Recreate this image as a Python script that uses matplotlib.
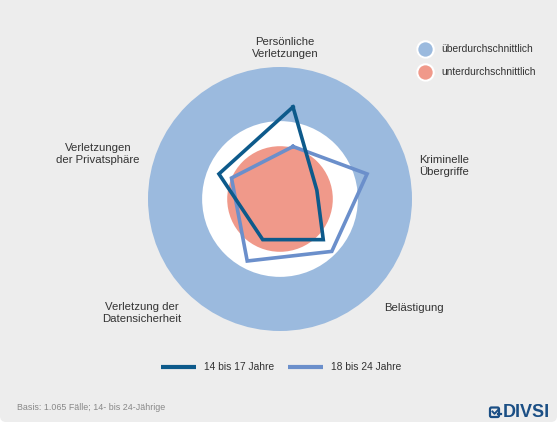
import numpy as np
import matplotlib.pyplot as plt
from matplotlib.patches import Circle, FancyBboxPatch

plt.rcParams['font.family'] = ['Liberation Sans', 'DejaVu Sans']

# categories, clockwise from the top
categories = ["Persönliche\nVerletzungen", "Kriminelle\nÜbergriffe", "Belästigung",
              "Verletzung der\nDatensicherheit", "Verletzungen\nder Privatsphäre"]
series_names = ["14 bis 17 Jahre", "18 bis 24 Jahre"]
values_14_17 = [69, 19, 39, 39, 59]
values_18_24 = [39, 59, 50, 59, 49]

# background rings (radius in the same units as the values)
ring_names = ["überdurchschnittlich", "unterdurchschnittlich"]
ring_outer = 100
ring_white = 59
ring_red = 40

footnote = "Basis: 1.065 Fälle; 14- bis 24-Jährige"

col_blue = "#9bbade"
col_red = "#f0998a"
col_dark = "#0d5a8b"
col_light = "#6b8fcb"
col_bg = "#ededed"
col_text = "#333333"
col_logo = "#1b4f85"

W, H = 560, 426
fig = plt.figure(figsize=(W / 100, H / 100), dpi=100)
fig.patch.set_facecolor("white")

# background axes in pixel coordinates
bg = fig.add_axes([0, 0, 1, 1])
bg.set_xlim(0, W)
bg.set_ylim(H, 0)
bg.axis("off")
bg.add_patch(FancyBboxPatch((0, -10), W - 3, H - 4 + 10, boxstyle="round,pad=0,rounding_size=6",
                            fc=col_bg, ec="none"))

# rings (drawn around their own centre, slightly left of the polygons)
R_px = 132
ring_cx, ring_cy = 280, 199
scale = R_px / ring_outer
bg.add_patch(Circle((ring_cx, ring_cy), ring_outer * scale, fc=col_blue, ec="none"))
bg.add_patch(Circle((ring_cx, ring_cy), ring_white * scale, fc="white", ec="none"))
bg.add_patch(Circle((ring_cx, ring_cy), ring_red * scale, fc=col_red, ec="none"))

# polar axes for the two series
cx, cy = 293, 198
ax = fig.add_axes([(cx - R_px) / W, (H - cy - R_px) / H, 2 * R_px / W, 2 * R_px / H],
                  projection="polar")
ax.set_theta_zero_location("N")
ax.set_theta_direction(-1)
ax.set_ylim(0, 100)
ax.patch.set_alpha(0)
ax.axis("off")

angles = np.linspace(0, 2 * np.pi, len(categories), endpoint=False)
ang_closed = np.append(angles, angles[0])
ax.plot(ang_closed, values_18_24 + values_18_24[:1], color=col_light, lw=2.6,
        solid_joinstyle="miter")
ax.plot(ang_closed, values_14_17 + values_14_17[:1], color=col_dark, lw=2.6,
        solid_joinstyle="miter")

# category labels
label_pos = [(285, 48, "center"), (419, 166, "left"), (384, 308, "left"),
             (142, 313, "center"), (98, 154, "center")]
for name, (x, y, ha) in zip(categories, label_pos):
    bg.text(x, y, name, ha=ha, va="center", fontsize=8.2, color=col_text, linespacing=1.15)

# ring legend (top right)
for i, (name, c) in enumerate(zip(ring_names, [col_blue, col_red])):
    y = 49 + i * 23
    bg.scatter([425], [y + 1], s=150, color="#d8d8d8", ec="none", zorder=3)
    bg.scatter([425], [y], s=140, color=c, ec="white", lw=1.5, zorder=4)
    bg.text(441, y, name, ha="left", va="center", fontsize=7.4, color=col_text)

# series legend (bottom)
for i, (name, c) in enumerate(zip(series_names, [col_dark, col_light])):
    x0 = 161 + i * 127
    bg.plot([x0, x0 + 35], [367, 367], color=c, lw=3, solid_capstyle="butt")
    bg.text(x0 + 43, 367, name, ha="left", va="center", fontsize=7.4, color=col_text)

bg.text(17, 407, footnote, ha="left", va="center", fontsize=6.4, color="#888888")

# logo: checkbox + DIVSI
bg.add_patch(FancyBboxPatch((490, 407.5), 9, 9.5, boxstyle="round,pad=0,rounding_size=1.5",
                            fc="none", ec=col_logo, lw=1.6))
bg.plot([492.5, 494.5, 498.5], [411.5, 413.8, 409.5], color=col_logo, lw=1.4)
bg.plot([497.5, 501], [413.5, 413.5], color=col_logo, lw=1.6)
bg.text(503, 412.5, "DIVSI", ha="left", va="center", fontsize=13, color=col_logo,
        fontweight="bold")

fig.savefig("out.png", dpi=100, facecolor=fig.get_facecolor())
